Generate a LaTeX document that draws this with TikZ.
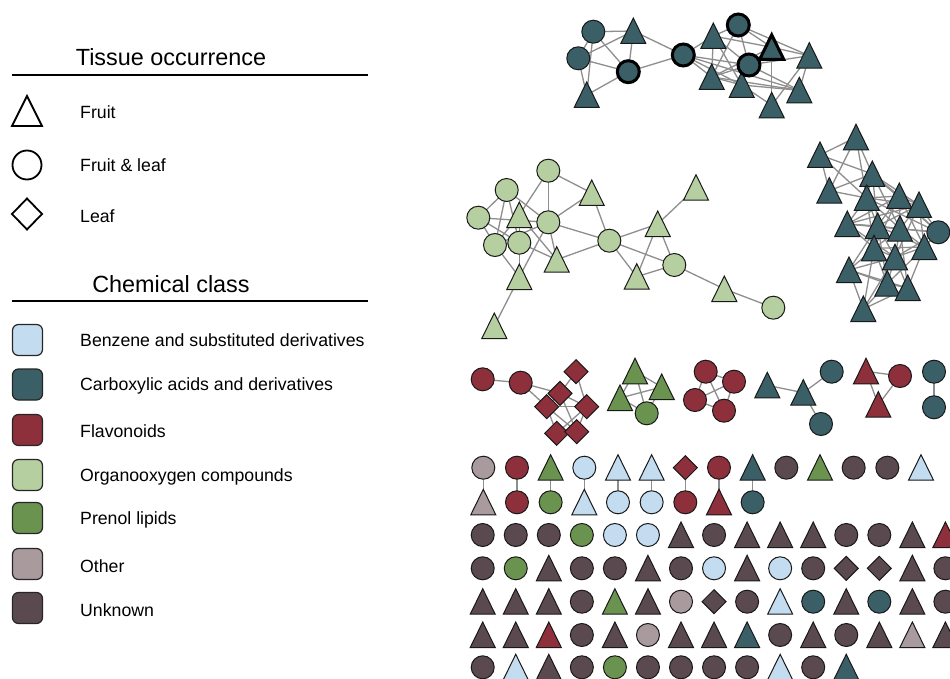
\documentclass[tikz,border=0pt]{standalone}
\usepackage{fontspec}
\setmainfont{Liberation Sans}
\pgfdeclarelayer{background}
\pgfsetlayers{background,main}
\definecolor{cBen}{HTML}{C4DCF0}
\definecolor{cCar}{HTML}{3A5F66}
\definecolor{cFla}{HTML}{8E2F3C}
\definecolor{cOrg}{HTML}{B5CFA0}
\definecolor{cPre}{HTML}{6A9350}
\definecolor{cOth}{HTML}{A89A9D}
\definecolor{cUnk}{HTML}{5A4A50}
\definecolor{cEdge}{HTML}{8E8E8E}
\tikzset{
  shp/.style={draw=black!90, line width=1pt},
  boldshp/.style={draw=black, line width=3pt},
  edge/.style={draw=cEdge, line width=1.3pt},
  legshape/.style={draw=black, line width=1.8pt},
  legbox/.style={draw=black!85, line width=1.2pt, rounded corners=6pt, minimum width=30pt, minimum height=31pt, inner sep=0pt},
  head/.style={font=\fontsize{23.4}{26}\selectfont, anchor=base},
  item/.style={font=\fontsize{17.7}{20}\selectfont, anchor=base west, inner sep=0pt},
}
\newcommand\ShC[4]{\coordinate (#1) at (#2,#3); \path[shp,fill=#4] (#1) circle[radius=11.5];}
\newcommand\ShT[4]{\coordinate (#1) at (#2,#3); \path[shp,fill=#4] (#1) ++(-12.5,12.5) -- ++(12.5,-25.5) -- ++(12.5,25.5) -- cycle;}
\newcommand\ShD[4]{\coordinate (#1) at (#2,#3); \path[shp,fill=#4] (#1) ++(-12,0) -- ++(12,-12) -- ++(12,12) -- ++(-12,12) -- cycle;}
\newcommand\ShBC[4]{\coordinate (#1) at (#2,#3); \path[boldshp,fill=#4] (#1) circle[radius=11];}
\newcommand\ShBT[4]{\coordinate (#1) at (#2,#3); \path[boldshp,fill=#4] (#1) ++(-12,12) -- ++(12,-24.5) -- ++(12,24.5) -- cycle;}
\begin{document}
\begin{tikzpicture}[x=1pt,y=-1pt]
\useasboundingbox (0,0) rectangle (950,679);
\begin{pgfonlayer}{background}
\fill[white] (0,0) rectangle (950,679);
\end{pgfonlayer}

% ---------- Legend ----------
\node[head] (hTis) at (171,66) {Tissue occurrence};
\draw[line width=1.2pt] (12,75) -- (368,75);
\path[legshape] (12,126) -- (27,96) -- (42,126) -- cycle;
\path[legshape] (27,165) circle[radius=14.5];
\path[legshape] (12,214) -- (27,198.5) -- (42,214) -- (27,229.5) -- cycle;
\node[item] (lFr) at (80,118.3) {Fruit};
\node[item] (lFl) at (80,171.3) {Fruit \& leaf};
\node[item] (lLe) at (80,222.3) {Leaf};

\node[head] (hChe) at (171,292) {Chemical class};
\draw[line width=1.2pt] (12,301) -- (368,301);
\node[legbox,fill=cBen] (kBen) at (27.5,340) {};
\node[legbox,fill=cCar] (kCar) at (27.5,384.5) {};
\node[legbox,fill=cFla] (kFla) at (27.5,430) {};
\node[legbox,fill=cOrg] (kOrg) at (27.5,475) {};
\node[legbox,fill=cPre] (kPre) at (27.5,518) {};
\node[legbox,fill=cOth] (kOth) at (27.5,564) {};
\node[legbox,fill=cUnk] (kUnk) at (27.5,608) {};
\node[item] (tBen) at (80,346.5) {Benzene and substituted derivatives};
\node[item] (tCar) at (80,390.5) {Carboxylic acids and derivatives};
\node[item] (tFla) at (80,437) {Flavonoids};
\node[item] (tOrg) at (80,481) {Organooxygen compounds};
\node[item] (tPre) at (80,524) {Prenol lipids};
\node[item] (tOth) at (80,572) {Other};
\node[item] (tUnk) at (80,616) {Unknown};

% ---------- Top network ----------
\ShT{ta3}{633.3}{31}{cCar}
\ShT{ta5}{586.7}{95}{cCar}
\ShC{ta1}{593.3}{31.7}{cCar}
\ShC{ta2}{578.3}{58.3}{cCar}
\ShBC{ta4}{628.3}{71.7}{cCar}
\ShBC{ta6}{683.3}{55}{cCar}
\ShT{ta7}{713.3}{36}{cCar}
\ShT{ta11}{711.7}{77}{cCar}
\ShT{ta12}{741.7}{85}{cCar}
\ShT{ta13}{809.3}{55.7}{cCar}
\ShT{ta14}{799.3}{90.3}{cCar}
\ShT{ta15}{771.7}{105.3}{cCar}
\ShBC{ta8}{738.3}{25}{cCar}
\ShBC{ta10}{749}{65}{cCar}
\ShBT{ta9}{771.7}{47.3}{cCar}
\begin{pgfonlayer}{background}
\foreach \a/\b in {ta1/ta3,ta1/ta2,ta1/ta4,ta1/ta5,ta2/ta3,ta2/ta4,ta2/ta5,ta3/ta4,ta5/ta4,ta4/ta6,ta3/ta6,
  ta6/ta7,ta6/ta11,ta6/ta10,ta6/ta12,ta6/ta14,ta7/ta8,ta7/ta11,ta7/ta10,ta7/ta9,ta7/ta12,ta8/ta9,ta8/ta10,ta8/ta11,
  ta8/ta13,ta9/ta13,ta9/ta10,ta9/ta15,ta9/ta11,ta10/ta11,ta10/ta12,ta10/ta13,ta10/ta14,ta11/ta12,ta11/ta14,
  ta12/ta14,ta12/ta15,ta13/ta14,ta13/ta15}
  \draw[edge] (\a) -- (\b);
\end{pgfonlayer}

% ---------- Organooxygen network ----------
\ShC{gb1}{548.3}{170.7}{cOrg}
\ShC{gb2}{506.7}{190}{cOrg}
\ShC{gb3}{478.3}{217.7}{cOrg}
\ShC{gb5}{548.3}{222.3}{cOrg}
\ShC{gb6}{495}{245}{cOrg}
\ShC{gb7}{519.3}{242.7}{cOrg}
\ShT{gb4}{519.3}{215}{cOrg}
\ShT{gb8}{556.7}{259.7}{cOrg}
\ShT{gb9}{519.3}{277}{cOrg}
\ShT{gb10}{494.3}{326}{cOrg}
\ShT{gb11}{591.7}{193}{cOrg}
\ShC{gb12}{609.3}{240.7}{cOrg}
\ShT{gb13}{696}{187.7}{cOrg}
\ShT{gb14}{657.7}{224}{cOrg}
\ShC{gb15}{674.3}{265}{cOrg}
\ShT{gb16}{636.7}{276.7}{cOrg}
\ShT{gb17}{724.3}{289}{cOrg}
\ShC{gb18}{773.3}{307.7}{cOrg}
\begin{pgfonlayer}{background}
\foreach \a/\b in {gb1/gb5,gb1/gb11,gb1/gb4,gb2/gb3,gb2/gb6,gb2/gb7,gb2/gb5,gb3/gb5,gb3/gb7,gb3/gb6,
  gb4/gb9,gb4/gb8,gb4/gb7,gb4/gb6,gb5/gb11,gb5/gb12,gb5/gb8,gb5/gb9,gb5/gb6,gb6/gb9,gb6/gb7,gb7/gb8,gb7/gb9,
  gb8/gb12,gb9/gb10,gb11/gb12,gb12/gb14,gb12/gb15,gb12/gb16,gb13/gb14,gb14/gb16,gb14/gb15,gb15/gb16,
  gb15/gb17,gb17/gb18}
  \draw[edge] (\a) -- (\b);
\end{pgfonlayer}

% ---------- Right carboxylic cluster ----------
\ShT{rc1}{856}{137.3}{cCar}
\ShT{rc2}{820}{155}{cCar}
\ShT{rc3}{829.3}{190.7}{cCar}
\ShT{rc4}{872.3}{174}{cCar}
\ShT{rc5}{866.7}{198}{cCar}
\ShT{rc6}{899.3}{196}{cCar}
\ShT{rc7}{919}{205}{cCar}
\ShT{rc8}{847.3}{224}{cCar}
\ShT{rc9}{877.7}{226}{cCar}
\ShT{rc10}{900}{228.7}{cCar}
\ShC{rc11}{938.3}{232.3}{cCar}
\ShT{rc12}{874}{248.3}{cCar}
\ShT{rc13}{924.3}{247}{cCar}
\ShT{rc14}{895}{257.3}{cCar}
\ShT{rc15}{849}{270}{cCar}
\ShT{rc16}{887.3}{283.7}{cCar}
\ShT{rc17}{907.7}{288}{cCar}
\ShT{rc18}{863.3}{309}{cCar}
\begin{pgfonlayer}{background}
\foreach \a/\b in {rc1/rc2,rc1/rc3,rc1/rc4,rc1/rc5,rc2/rc4,rc2/rc3,rc2/rc5,rc3/rc4,rc3/rc5,rc4/rc5,rc4/rc6,
  rc4/rc7,rc4/rc9,rc4/rc10,rc4/rc11,rc5/rc6,rc5/rc7,rc5/rc8,rc5/rc9,rc5/rc10,rc5/rc12,rc5/rc11,rc6/rc7,rc6/rc8,
  rc6/rc9,rc6/rc10,rc6/rc11,rc6/rc12,rc6/rc13,rc7/rc8,rc7/rc9,rc7/rc10,rc7/rc11,rc7/rc13,rc7/rc14,rc8/rc9,
  rc8/rc10,rc8/rc11,rc8/rc12,rc8/rc14,rc9/rc10,rc9/rc12,rc9/rc13,rc9/rc14,rc9/rc15,rc9/rc16,rc10/rc11,
  rc10/rc12,rc10/rc13,rc10/rc14,rc10/rc17,rc11/rc13,rc11/rc14,rc12/rc13,rc12/rc14,rc12/rc15,rc12/rc16,
  rc12/rc18,rc13/rc14,rc13/rc16,rc13/rc17,rc14/rc15,rc14/rc16,rc14/rc17,rc14/rc18,rc15/rc16,rc15/rc18,
  rc16/rc17,rc16/rc18,rc17/rc18,rc15/rc17}
  \draw[edge] (\a) -- (\b);
\end{pgfonlayer}

% ---------- Small components ----------
\ShC{f1}{482.7}{379.3}{cFla}
\ShC{f2}{520.7}{382.7}{cFla}
\ShD{d1}{576}{371.7}{cFla}
\ShD{d2}{560}{393.3}{cFla}
\ShD{d3}{546.7}{406.7}{cFla}
\ShD{d4}{586.7}{406.7}{cFla}
\ShD{d5}{556.7}{433.3}{cFla}
\ShD{d6}{576.7}{431.7}{cFla}
\ShT{p1}{635}{371.3}{cPre}
\ShT{p2}{620}{398}{cPre}
\ShT{p3}{661.7}{387}{cPre}
\ShC{p4}{646.7}{413.3}{cPre}
\ShC{q1}{705.7}{371.7}{cFla}
\ShC{q2}{734}{381.7}{cFla}
\ShC{q3}{695}{400}{cFla}
\ShC{q4}{724}{410.7}{cFla}
\ShT{s1}{767.3}{385.3}{cCar}
\ShT{s2}{803.3}{392.7}{cCar}
\ShC{s3}{831.7}{371.7}{cCar}
\ShC{s4}{821}{424}{cCar}
\ShT{v1}{866}{371.3}{cFla}
\ShC{v2}{900}{376}{cFla}
\ShT{v3}{878.3}{404.7}{cFla}
\ShC{w1}{934}{371.7}{cCar}
\ShC{w2}{934}{407.3}{cCar}
\begin{pgfonlayer}{background}
\foreach \a/\b in {f1/f2,f2/d2,f2/d3,d1/d2,d1/d4,d2/d3,d2/d4,d2/d6,d3/d4,d3/d5,d3/d6,d4/d6,d4/d5,d5/d6,
  p1/p2,p1/p3,p1/p4,p2/p3,p2/p4,p3/p4,q1/q2,q1/q3,q1/q4,q2/q3,q2/q4,q3/q4,s1/s2,s2/s3,s2/s4,
  v1/v2,v1/v3,v2/v3,w1/w2}
  \draw[edge] (\a) -- (\b);
\end{pgfonlayer}

% ---------- Pairs ----------
\foreach \s/\c [count=\i from 0] in {C/cOth,C/cFla,T/cPre,C/cBen,T/cBen,T/cBen,D/cFla,C/cFla,T/cCar,C/cUnk,T/cPre,C/cUnk,C/cUnk,T/cBen}{
  \pgfmathsetmacro\xx{483.3+33.67*\i}
  \csname Sh\s\endcsname{pa\i}{\xx}{467.7}{\c}
}
\foreach \s/\c [count=\i from 0] in {T/cOth,C/cFla,C/cPre,T/cBen,C/cBen,C/cBen,C/cFla,T/cFla,C/cCar}{
  \pgfmathsetmacro\xx{483.3+33.67*\i}
  \csname Sh\s\endcsname{pb\i}{\xx}{502.3}{\c}
}
\begin{pgfonlayer}{background}
\foreach \i in {0,...,8} \draw[edge] (pa\i) -- (pb\i);
\end{pgfonlayer}

% ---------- Singletons grid ----------
\foreach \s/\c [count=\i from 0] in {C/cUnk,C/cUnk,C/cUnk,C/cPre,C/cBen,C/cBen,T/cUnk,C/cUnk,T/cUnk,T/cUnk,T/cUnk,C/cUnk,C/cUnk,T/cUnk,T/cFla}{
  \pgfmathsetmacro\xx{482.7+33.05*\i}
  \csname Sh\s\endcsname{ra\i}{\xx}{535}{\c}
}
\foreach \s/\c [count=\i from 0] in {C/cUnk,C/cPre,T/cUnk,C/cUnk,C/cUnk,T/cUnk,C/cUnk,C/cBen,T/cUnk,C/cBen,C/cUnk,D/cUnk,D/cUnk,T/cUnk,C/cUnk}{
  \pgfmathsetmacro\xx{482.7+33.05*\i}
  \csname Sh\s\endcsname{rb\i}{\xx}{568.3}{\c}
}
\foreach \s/\c [count=\i from 0] in {T/cUnk,T/cUnk,T/cUnk,C/cUnk,T/cPre,T/cUnk,C/cOth,D/cUnk,C/cUnk,T/cBen,C/cCar,T/cUnk,C/cCar,T/cUnk,C/cUnk}{
  \pgfmathsetmacro\xx{482.7+33.05*\i}
  \csname Sh\s\endcsname{rc\i x}{\xx}{601.7}{\c}
}
\foreach \s/\c [count=\i from 0] in {T/cUnk,T/cUnk,T/cFla,C/cUnk,T/cUnk,C/cOth,T/cUnk,T/cUnk,T/cCar,C/cUnk,T/cUnk,C/cUnk,T/cUnk,T/cOth,T/cUnk}{
  \pgfmathsetmacro\xx{482.7+33.05*\i}
  \csname Sh\s\endcsname{rd\i}{\xx}{635}{\c}
}
\foreach \s/\c [count=\i from 0] in {C/cUnk,T/cBen,T/cUnk,C/cUnk,C/cPre,C/cUnk,C/cUnk,C/cUnk,C/cUnk,T/cBen,C/cUnk,T/cCar}{
  \pgfmathsetmacro\xx{482.7+33.05*\i}
  \csname Sh\s\endcsname{re\i}{\xx}{667.3}{\c}
}
\end{tikzpicture}
\end{document}
